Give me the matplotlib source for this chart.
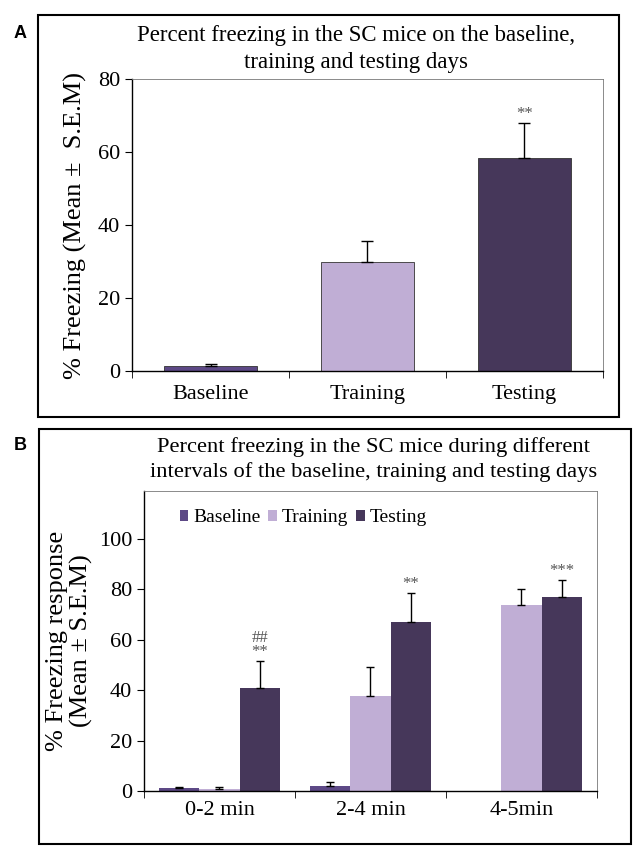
import matplotlib
matplotlib.use('Agg')
import matplotlib.pyplot as plt
import numpy as np
from matplotlib.patches import Rectangle

plt.rcParams['font.family'] = ['Liberation Serif', 'DejaVu Serif']

# panel A data
days = ['Baseline', 'Training', 'Testing']
day_means = [1.5, 29.8, 58.3]
day_sem = [0.4, 5.7, 9.7]

# panel B data
intervals = ['0-2 min', '2-4 min', '4-5min']
base_means = [1.2, 2.1, 0.0]
base_sem = [0.5, 1.3, 0.0]
train_means = [0.9, 37.6, 73.9]
train_sem = [0.7, 11.7, 6.3]
test_means = [41.0, 66.9, 76.9]
test_sem = [10.7, 11.7, 6.7]
test_marks = ['##\n**', '**', '***']

c_base = '#5d4986'
c_train = '#c0aed5'
c_test = '#46375a'

fig = plt.figure(figsize=(6.38, 8.5), dpi=100)

# panel frames
fig.patches.append(Rectangle((0.0596, 0.5094), 0.9107, 0.473, transform=fig.transFigure,
                             fill=False, edgecolor='black', linewidth=1.5))
fig.patches.append(Rectangle((0.0611, 0.0071), 0.928, 0.488, transform=fig.transFigure,
                             fill=False, edgecolor='black', linewidth=1.5))
fig.text(0.031, 0.961, 'A', fontsize=13, fontweight='bold', family='Liberation Sans', ha='center', va='center')
fig.text(0.031, 0.476, 'B', fontsize=13, fontweight='bold', family='Liberation Sans', ha='center', va='center')


def style_axes(ax, n, pad):
    ax.set_xlim(-0.5, n - 0.5)
    ax.set_xticks(np.arange(n))
    ax.tick_params(axis='x', which='major', length=0, labelsize=16, pad=pad)
    ax.set_xticks(np.arange(n + 1) - 0.5, minor=True)
    ax.tick_params(axis='x', which='minor', length=5, direction='out')
    ax.tick_params(axis='y', labelsize=16, length=5, direction='out')
    for s in ['top', 'right']:
        ax.spines[s].set_color('#777777')
        ax.spines[s].set_linewidth(0.6)
    for s in ['left', 'bottom']:
        ax.spines[s].set_linewidth(1.0)


def heights(means):
    # no bar at all where the mean is zero
    return np.where(np.array(means) > 0, means, np.nan)


def upper_err(means, sems):
    # one-sided error bars, none where there is no bar
    up = np.where(np.array(means) > 0, sems, np.nan)
    return [np.zeros(len(means)), up]


# ---- panel A
axA = fig.add_axes([0.207, 0.5635, 0.738, 0.3435])
xa = np.arange(len(days))
axA.bar(xa, day_means, 0.59, color=[c_base, c_train, c_test], edgecolor='#333333', linewidth=0.6,
        yerr=upper_err(day_means, day_sem), error_kw=dict(ecolor='black', elinewidth=1, capsize=4, capthick=1))
axA.set_ylim(0, 80)
axA.set_yticks([0, 20, 40, 60, 80])
axA.set_xticklabels(days)
style_axes(axA, len(days), 10)
axA.text(2, day_means[2] + day_sem[2] + 0.3, '**', ha='center', va='bottom', fontsize=12, color='#555555')
axA.set_ylabel('% Freezing (Mean ±  S.E.M)', fontsize=19, labelpad=8)
fig.text(0.558, 0.9425, 'Percent freezing in the SC mice on the baseline,\ntraining and testing days',
         ha='center', va='center', fontsize=16.5, linespacing=1.33)

# ---- panel B
axB = fig.add_axes([0.2257, 0.0694, 0.710, 0.353])
xb = np.arange(len(intervals))
w = 0.268
ekw = dict(ecolor='black', elinewidth=1, capsize=3, capthick=1)
axB.bar(xb - w, heights(base_means), w, color=c_base, label='Baseline', linewidth=0,
        yerr=upper_err(base_means, base_sem), error_kw=ekw)
axB.bar(xb, heights(train_means), w, color=c_train, label='Training', linewidth=0,
        yerr=upper_err(train_means, train_sem), error_kw=ekw)
axB.bar(xb + w, heights(test_means), w, color=c_test, label='Testing', linewidth=0,
        yerr=upper_err(test_means, test_sem), error_kw=ekw)
axB.set_ylim(0, 119)
axB.set_yticks([0, 20, 40, 60, 80, 100])
axB.set_xticklabels(intervals)
style_axes(axB, len(intervals), 7)
for i, m in enumerate(test_marks):
    axB.text(xb[i] + w, test_means[i] + test_sem[i] + 0.3, m, ha='center', va='bottom',
             fontsize=12, color='#555555', linespacing=0.8)
axB.set_ylabel('% Freezing response\n(Mean ± S.E.M)', fontsize=19, labelpad=4, linespacing=1.1)
axB.legend(loc='center left', bbox_to_anchor=(0.04, 0.91), ncol=3, frameon=False, fontsize=14,
           handlelength=0.45, handleheight=0.45, handletextpad=0.25, columnspacing=0.4)
fig.text(0.585, 0.4596, 'Percent freezing in the SC mice during different\nintervals of the baseline, training and testing days',
         ha='center', va='center', fontsize=16.2, linespacing=1.33)

fig.savefig('out.png', dpi=100)
